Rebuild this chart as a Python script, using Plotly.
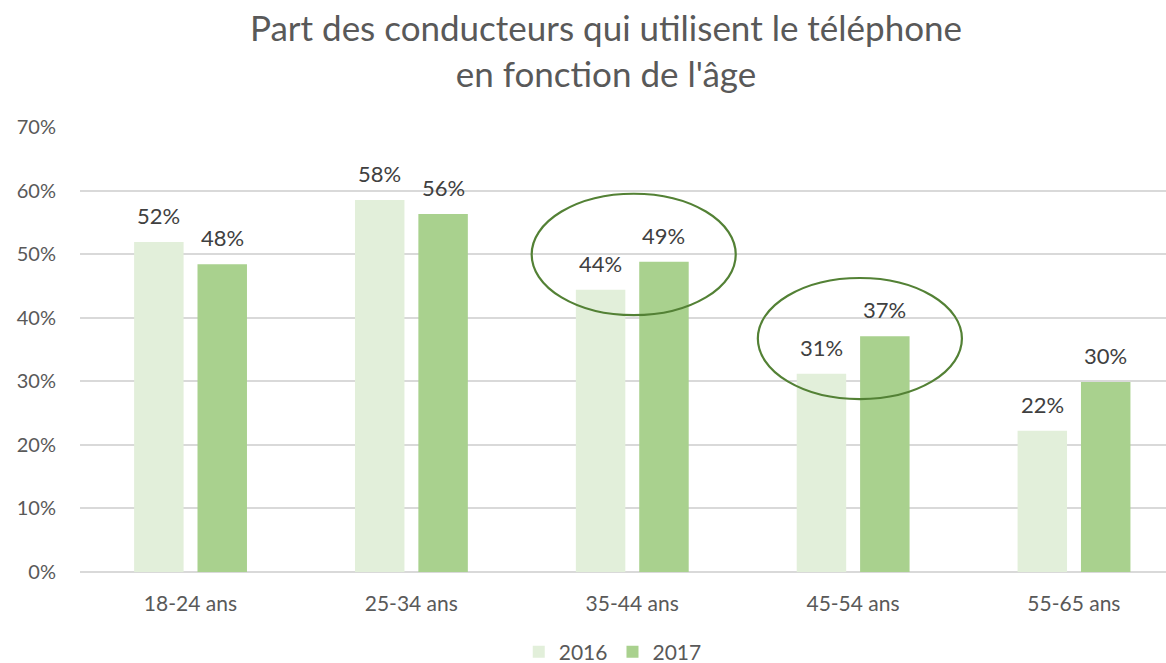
import plotly.graph_objects as go

categories = ["18-24 ans", "25-34 ans", "35-44 ans", "45-54 ans", "55-65 ans"]
values_2016 = [0.519, 0.585, 0.444, 0.312, 0.222]
values_2017 = [0.484, 0.563, 0.488, 0.371, 0.299]
series_names = ["2016", "2017"]
y_ticks = [0, 0.1, 0.2, 0.3, 0.4, 0.5, 0.6, 0.7]

colors = ["#e2efda", "#a9d18e"]
bar_width = 0.224
offsets = [-0.255, 0.032]
font_family = "Lato, 'Open Sans', sans-serif"

fig = go.Figure()
for name, vals, col, off in zip(series_names, [values_2016, values_2017], colors, offsets):
    fig.add_trace(go.Bar(
        x=categories, y=vals, name=name,
        marker=dict(color=col, line=dict(width=0)),
        width=bar_width, offset=off,
    ))

annotations = []
for vals, off in zip([values_2016, values_2017], offsets):
    for i, v in enumerate(vals):
        annotations.append(dict(
            x=i + off + bar_width / 2, y=v, xref="x", yref="y",
            text=f"{round(v * 100)}%", showarrow=False,
            yanchor="bottom", yshift=11,
            font=dict(family=font_family, size=22, color="#404040"),
        ))

# Highlight ellipses around the 35-44 and 45-54 groups
ellipses = [
    dict(x0=1.545, x1=2.469, y0=0.404, y1=0.595),
    dict(x0=2.569, x1=3.493, y0=0.272, y1=0.4625),
]
shapes = [
    dict(type="circle", xref="x", yref="y", x0=e["x0"], x1=e["x1"], y0=e["y0"], y1=e["y1"],
         line=dict(color="#538135", width=2.2), fillcolor="rgba(0,0,0,0)", layer="above")
    for e in ellipses
]

fig.update_layout(
    width=1166, height=663,
    margin=dict(l=80, r=0, t=127, b=91, autoexpand=False),
    paper_bgcolor="white", plot_bgcolor="white",
    barmode="overlay",
    title=dict(
        text="Part des conducteurs qui utilisent le téléphone<br>en fonction de l'âge",
        x=606 / 1166, xanchor="center", xref="container",
        y=1 - 41 / 663, yanchor="middle", yref="container",
        font=dict(family=font_family, size=35, color="#595959"),
    ),
    xaxis=dict(
        range=[-0.5, 4.417], showgrid=False, showline=False, zeroline=False,
        ticks="", ticklabelstandoff=17,
        tickfont=dict(family=font_family, size=21, color="#595959"),
    ),
    yaxis=dict(
        range=[0, 0.7], tickvals=y_ticks, tickformat=".0%",
        showgrid=True, gridcolor="#d9d9d9", gridwidth=1.5,
        zeroline=True, zerolinecolor="#d9d9d9", zerolinewidth=1.5,
        showline=False, ticks="", ticklabelstandoff=23,
        tickfont=dict(family=font_family, size=20, color="#595959"),
    ),
    legend=dict(
        orientation="h", x=572 / 1166, xanchor="center",
        y=(663 - 652) / 663, yanchor="middle", yref="container",
        font=dict(family=font_family, size=21, color="#595959"),
        traceorder="normal", itemwidth=30,
    ),
    annotations=annotations,
    shapes=shapes,
    showlegend=True,
)

fig.write_html(
    "out.html",
    config={"displayModeBar": False},
    post_script="document.body.style.margin='0';document.body.style.overflow='hidden';",
)
